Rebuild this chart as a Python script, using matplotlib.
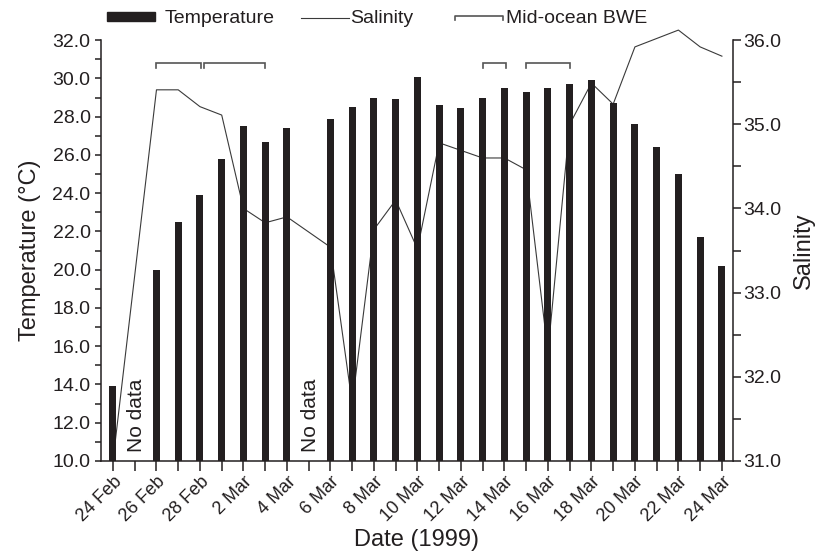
import numpy as np
import matplotlib
matplotlib.use("Agg")
import matplotlib.pyplot as plt
from matplotlib.lines import Line2D
from matplotlib.patches import Rectangle
from matplotlib.legend_handler import HandlerBase
from matplotlib.ticker import MultipleLocator, FixedLocator

plt.rcParams['font.family'] = ['Liberation Sans', 'DejaVu Sans']

# daily series, 24 Feb .. 24 Mar 1999 (nan = no data)
days = np.arange(29)
tick_labels = ['24 Feb', '26 Feb', '28 Feb', '2 Mar', '4 Mar', '6 Mar', '8 Mar',
               '10 Mar', '12 Mar', '14 Mar', '16 Mar', '18 Mar', '20 Mar',
               '22 Mar', '24 Mar']
temperature = [13.9, np.nan, 20.0, 22.5, 23.9, 25.8, 27.5, 26.7, 27.4, np.nan,
               27.9, 28.5, 29.0, 28.9, 30.1, 28.6, 28.45, 29.0, 29.5, 29.3,
               29.5, 29.7, 29.9, 28.7, 27.6, 26.4, 25.0, 21.7, 20.2]
salinity = [31.0, np.nan, 35.41, 35.41, 35.21, 35.11, 34.0, 33.83, 33.9, np.nan,
            33.54, 31.68, 33.75, 34.1, 33.52, 34.78, 34.69, 34.6, 34.6, 34.46,
            32.29, 35.0, 35.49, 35.24, 35.92, 36.02, 36.12, 35.92, 35.81]
# mid-ocean BWE periods (day index start / end)
bwe_start = [2.0, 4.2, 17.0, 19.0]
bwe_end = [4.05, 7.0, 18.05, 21.0]
no_data_days = [1, 9]

ink = '#231f20'
grey = '#555555'


class BracketHandler(HandlerBase):
    def create_artists(self, legend, orig_handle, xdescent, ydescent,
                       width, height, fontsize, trans):
        y0 = height * 0.75
        d = height * 0.35
        line = Line2D([0, 0, width, width], [y0 - d, y0, y0, y0 - d],
                      color=grey, lw=1.2, transform=trans)
        return [line]


fig = plt.figure(figsize=(8.28, 5.58), dpi=100)
ax = fig.add_axes([0.122, 0.174, 0.763, 0.754])
ax2 = ax.twinx()

temp = np.array(temperature)
ok = ~np.isnan(temp)
ax.bar(days[ok], temp[ok] - 10.0, bottom=10.0, width=0.32, color=ink, zorder=3)

sal = np.array(salinity)
oks = ~np.isnan(sal)
ax2.plot(days[oks], sal[oks], color='#3a3a3a', lw=0.8, clip_on=False)

for s, e in zip(bwe_start, bwe_end):
    ax.plot([s, s, e, e], [30.55, 30.8, 30.8, 30.55], color=grey, lw=1.2,
            solid_joinstyle='miter', zorder=4)

for d in no_data_days:
    ax.text(d + 0.08, 10.45, 'No data', rotation=90, ha='center', va='bottom',
            fontsize=15, color=ink)

ax.set_zorder(ax2.get_zorder() + 1)
ax.patch.set_visible(False)

ax.set_xlim(-0.55, 28.5)
ax.set_ylim(10, 32)
ax2.set_ylim(31, 36)

ax.set_yticks(np.arange(10, 32.01, 2))
ax.set_yticklabels([f'{v:.1f}' for v in np.arange(10, 32.01, 2)])
ax.yaxis.set_minor_locator(MultipleLocator(1))
ax2.set_yticks(np.arange(31, 36.01, 1))
ax2.set_yticklabels([f'{v:.1f}' for v in np.arange(31, 36.01, 1)])
ax2.yaxis.set_minor_locator(MultipleLocator(0.5))

ax.xaxis.set_major_locator(FixedLocator(days[::2]))
ax.xaxis.set_minor_locator(FixedLocator(days[1::2]))
ax.set_xticklabels(tick_labels, rotation=45, ha='right', rotation_mode='anchor',
                   fontsize=13, color=ink)

for a in (ax, ax2):
    a.spines['top'].set_visible(False)
    for sp in a.spines.values():
        sp.set_linewidth(1.1)
        sp.set_color(ink)
    a.tick_params(which='both', direction='out', width=1.1, color=ink,
                  labelcolor=ink, labelsize=14)
ax.tick_params(axis='y', which='both', length=4)
ax.tick_params(axis='x', which='both', length=7, labelsize=13, pad=2)
ax2.tick_params(axis='y', which='both', length=5.5, pad=2)
ax.spines['right'].set_visible(False)
ax2.spines['left'].set_visible(False)
ax2.spines['bottom'].set_visible(False)

ax.set_ylabel('Temperature (°C)', fontsize=17, color=ink, labelpad=8)
ax2.set_ylabel('Salinity', fontsize=17, color=ink, labelpad=8)
ax.set_xlabel('Date (1999)', fontsize=17, color=ink, labelpad=3)

# legend items along the top
items = [
    (Rectangle((0, 0), 1, 1, color=ink), 'Temperature', 0.129, 0.45, False),
    (Line2D([], [], color='#3a3a3a', lw=0.8), 'Salinity', 0.363, 0.05, False),
    (Line2D([], []), 'Mid-ocean BWE', 0.549, 0.15, True),
]
for h, lab, x, pad, bracket in items:
    kw = {}
    if bracket:
        kw['handler_map'] = {h: BracketHandler()}
    fig.legend([h], [lab], loc='center left', bbox_to_anchor=(x, 0.966),
               frameon=False, fontsize=14, handlelength=2.5, handleheight=0.4,
               handletextpad=pad, borderpad=0, borderaxespad=0,
               labelcolor=ink, **kw)

fig.savefig('out.png', dpi=100)
